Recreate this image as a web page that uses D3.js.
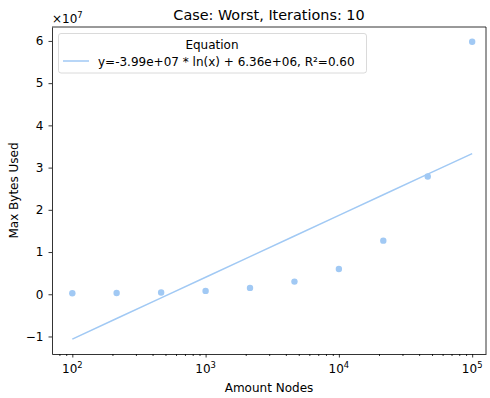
<!DOCTYPE html>
<html>
<head>
<meta charset="utf-8">
<script src="https://cdn.jsdelivr.net/npm/d3@7"></script>
<style>
  html, body { margin: 0; padding: 0; background: #fff; }
  svg { display: block; font-family: "DejaVu Sans", sans-serif; }
</style>
</head>
<body>
<svg id="chart" width="490" height="398"></svg>
<script>
// Measurements: node counts and peak memory (bytes)
const nodes = [100, 215, 464, 1000, 2154, 4642, 10000, 21544, 46416, 100000];
const maxBytes = [0.024e7, 0.03e7, 0.04e7, 0.08e7, 0.15e7, 0.30e7, 0.60e7, 1.27e7, 2.79e7, 5.98e7];
// Fitted logarithmic trend: y = slope * ln(x) + intercept
const fitSlope = 6.36e6;
const fitIntercept = -3.99e7;
const legendLabel = "y=-3.99e+07 * ln(x) + 6.36e+06, R²=0.60";
const yTicks = [-1, 0, 1, 2, 3, 4, 5, 6];
const xTicks = [1e2, 1e3, 1e4, 1e5];

const color = "#a1c9f4";
const fs = 12;
const sup = 8.4;
const svg = d3.select("#chart");
const m = { left: 52, right: 486, top: 27, bottom: 354 };

const x = d3.scaleLog().domain([70.4, 1.27e5]).range([m.left, m.right]);
const y = d3.scaleLinear().domain([-1.415e7, 6.33e7]).range([m.bottom, m.top]);

// Trend line
const fit = nodes.map(n => [n, fitSlope * Math.log(n) + fitIntercept]);
svg.append("path")
  .datum(fit)
  .attr("fill", "none")
  .attr("stroke", color)
  .attr("stroke-width", 1.5)
  .attr("d", d3.line().x(d => x(d[0])).y(d => y(d[1])));

// Data points
svg.append("g").selectAll("circle")
  .data(nodes.map((n, i) => [n, maxBytes[i]]))
  .join("circle")
  .attr("cx", d => x(d[0]))
  .attr("cy", d => y(d[1]))
  .attr("r", 3.2)
  .attr("fill", color);

// Axes
const xAxis = svg.append("g").attr("transform", `translate(0,${m.bottom})`)
  .call(d3.axisBottom(x).tickValues(xTicks).tickSize(3.5).tickSizeOuter(0).tickFormat(""));
const minor = [];
for (let e = 1; e <= 5; e++) for (let k = 2; k <= 9; k++) {
  const v = k * Math.pow(10, e);
  if (v >= x.domain()[0] && v <= x.domain()[1]) minor.push(v);
}
svg.append("g").attr("transform", `translate(0,${m.bottom})`)
  .call(d3.axisBottom(x).tickValues(minor).tickSize(2).tickFormat(""))
  .call(g => g.select(".domain").remove());

xTicks.forEach(v => {
  const t = svg.append("text")
    .attr("x", x(v)).attr("y", m.bottom + 19)
    .attr("text-anchor", "middle")
    .attr("font-size", fs).attr("fill", "#000");
  t.append("tspan").text("10");
  t.append("tspan").attr("dy", -5).attr("font-size", sup).text(Math.round(Math.log10(v)));
});

const yAxis = svg.append("g").attr("transform", `translate(${m.left},0)`)
  .call(d3.axisLeft(y).tickValues(yTicks.map(v => v * 1e7)).tickSize(3.5).tickSizeOuter(0)
    .tickFormat(v => (v < 0 ? "−" : "") + Math.abs(Math.round(v / 1e7))));

[xAxis, yAxis].forEach(g => {
  g.selectAll(".tick text").attr("font-size", fs).attr("fill", "#000")
    .attr("font-family", "DejaVu Sans, sans-serif");
  g.select(".domain").attr("stroke", "#000").attr("stroke-width", 0.8);
});
yAxis.selectAll(".tick text").attr("x", -8.5);
svg.selectAll(".tick line").attr("stroke", "#000").attr("stroke-width", 0.8);

// Top and right spines
svg.append("line").attr("x1", m.left).attr("x2", m.right).attr("y1", m.top).attr("y2", m.top)
  .attr("stroke", "#000").attr("stroke-width", 0.8);
svg.append("line").attr("x1", m.right).attr("x2", m.right).attr("y1", m.top).attr("y2", m.bottom)
  .attr("stroke", "#000").attr("stroke-width", 0.8);

// Offset label for the y axis
const off = svg.append("text").attr("x", m.left).attr("y", 22.5).attr("font-size", fs);
off.append("tspan").text("×10");
off.append("tspan").attr("dy", -5).attr("font-size", sup).text("7");

// Title and axis labels
svg.append("text").attr("x", (m.left + m.right) / 2).attr("y", 19.5)
  .attr("text-anchor", "middle").attr("font-size", 14.4).text("Case: Worst, Iterations: 10");
svg.append("text").attr("x", (m.left + m.right) / 2).attr("y", 391.5)
  .attr("text-anchor", "middle").attr("font-size", fs).text("Amount Nodes");
svg.append("text")
  .attr("transform", `translate(18,${(m.top + m.bottom) / 2}) rotate(-90)`)
  .attr("text-anchor", "middle").attr("font-size", fs).text("Max Bytes Used");

// Legend
const lg = svg.append("g");
lg.append("rect").attr("x", 58.5).attr("y", 33.5).attr("width", 308).attr("height", 39.5)
  .attr("rx", 2.5).attr("fill", "#fff").attr("fill-opacity", 0.8)
  .attr("stroke", "#d0d0d0").attr("stroke-width", 0.8);
lg.append("text").attr("x", 212).attr("y", 48.5).attr("text-anchor", "middle")
  .attr("font-size", fs).text("Equation");
lg.append("line").attr("x1", 63).attr("x2", 89).attr("y1", 61).attr("y2", 61)
  .attr("stroke", color).attr("stroke-width", 1.5);
lg.append("text").attr("x", 98).attr("y", 65.5).attr("font-size", fs).text(legendLabel);
</script>
</body>
</html>
